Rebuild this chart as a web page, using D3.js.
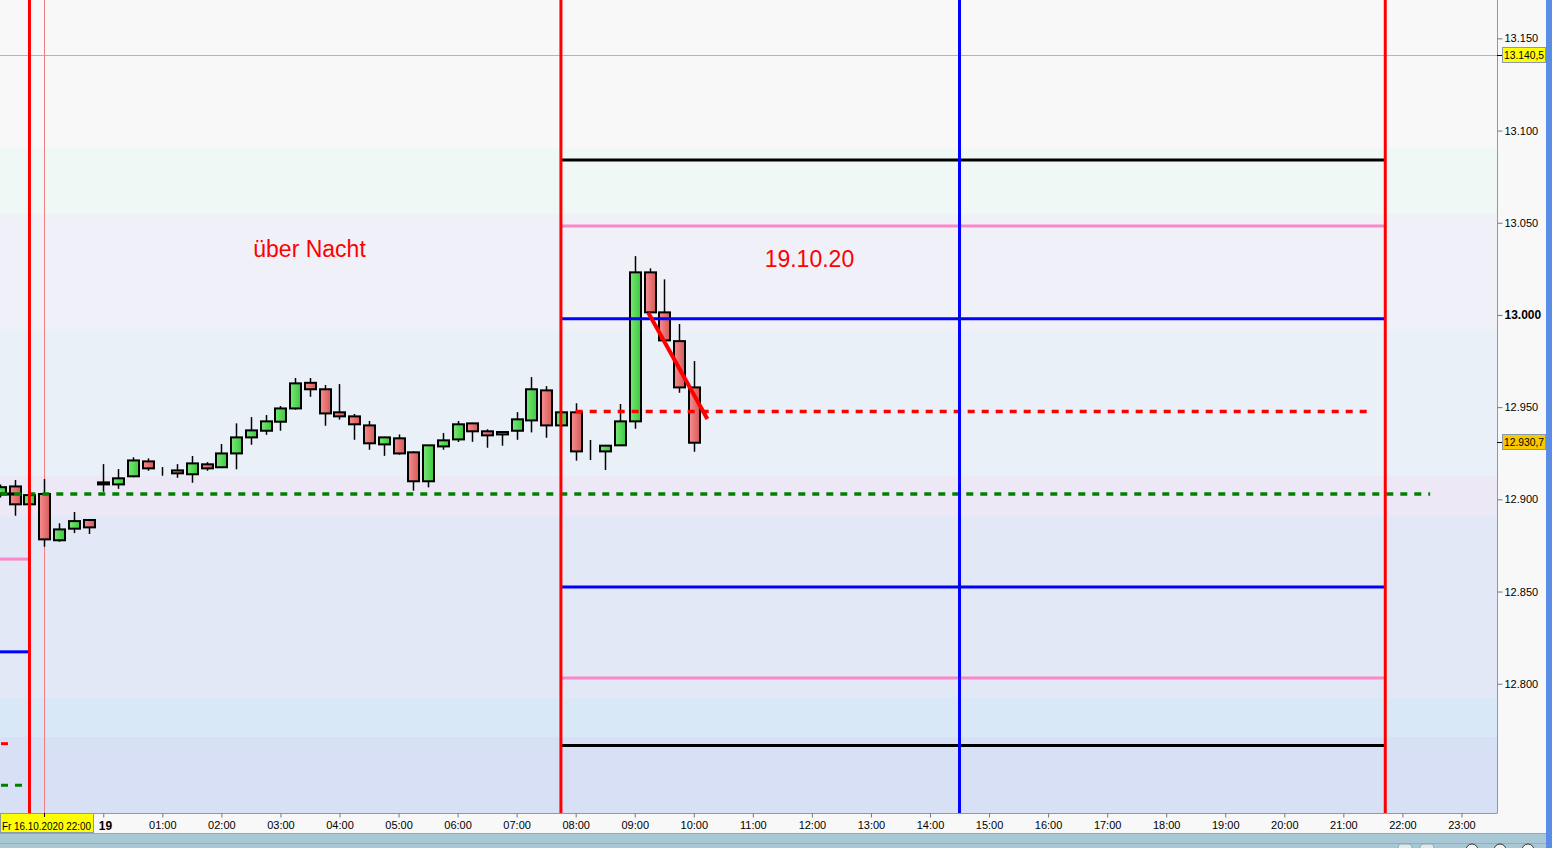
<!DOCTYPE html>
<html><head><meta charset="utf-8">
<script src="https://cdn.jsdelivr.net/npm/d3@7"></script>
<style>html,body{margin:0;padding:0;background:#f8f8f8;overflow:hidden}svg{display:block;font-family:"Liberation Sans",Arial,sans-serif}</style>
</head><body><svg id="c" width="1552" height="848"></svg>
<script>
// ---- data (15-minute candles, hours relative to Mon 19.10.2020 00:00) ----
const candleTime=[-1.75,-1.5,-1.25,-1.0,-0.75,-0.5,-0.25,0,0.25,0.5,0.75,1.0,1.25,1.5,1.75,2.0,2.25,2.5,2.75,3.0,3.25,3.5,3.75,4.0,4.25,4.5,4.75,5.0,5.25,5.5,5.75,6.0,6.25,6.5,6.75,7.0,7.25,7.5,7.75,8.0,8.25,8.5,8.75,9.0,9.25,9.5,9.75,10.0];
const candleOpen=[12902.9,12907.0,12897.3,12902.9,12877.8,12884.1,12888.8,12909.2,12908.1,12912.5,12920.6,12915.9,12915.7,12913.6,12919.0,12917.4,12924.9,12933.6,12937.2,12942.1,12949.3,12963.2,12959.7,12947.2,12945.0,12940.1,12929.8,12933.1,12925.5,12909.8,12928.7,12932.5,12941.2,12936.9,12935.2,12937.2,12942.8,12959.1,12940.1,12947.2,12925.8,12926.0,12929.3,12942.3,13023.1,13001.4,12985.8,12960.7];
const candleHigh=[12908.0,12910.5,12903.0,12911.0,12887.0,12893.1,12889.0,12919.1,12916.4,12922.8,12922.2,12917.5,12919.1,12923.5,12920.2,12930.0,12941.2,12944.6,12945.7,12950.6,12965.8,12965.8,12962.0,12962.5,12946.3,12942.5,12934.0,12935.2,12926.0,12929.5,12936.0,12942.5,12941.5,12938.0,12937.0,12947.3,12966.3,12961.4,12948.0,12952.1,12932.2,12929.5,12951.7,13031.9,13025.3,13019.3,12995.1,12975.0];
const candleLow=[12901.0,12891.1,12896.0,12874.3,12877.0,12881.7,12881.2,12904.1,12905.7,12912.0,12915.5,12912.8,12911.7,12909.0,12915.5,12917.0,12916.3,12929.6,12935.0,12937.2,12948.6,12955.6,12939.9,12943.2,12932.3,12926.9,12923.6,12924.2,12904.7,12906.5,12926.9,12931.1,12931.2,12928.0,12929.1,12932.3,12936.3,12933.4,12939.0,12921.0,12921.3,12915.9,12929.0,12938.3,13001.0,12986.0,12957.8,12925.8];
const candleClose=[12906.6,12897.3,12902.3,12878.3,12883.7,12888.2,12884.8,12908.1,12911.4,12921.1,12916.8,12915.9,12914.1,12919.5,12916.8,12924.9,12933.6,12937.4,12942.3,12949.3,12962.9,12959.7,12946.6,12945.0,12940.7,12930.4,12933.6,12924.9,12909.8,12929.3,12932.0,12940.7,12936.9,12934.7,12936.5,12943.4,12959.7,12940.1,12947.2,12926.0,12925.8,12929.1,12942.3,13023.1,13001.4,12986.2,12960.7,12930.7];

// day levels (between session lines)
const dayLevelValues=[13084.0,13048.2,12997.9,12852.4,12803.1,12766.5];
const dayLevelKinds=["outer","mid","inner","inner","mid","outer"];
const dayStart=7.75, dayEnd=21.71;
// previous-day level stubs
const prevLevelValues=[12902.9,12867.6,12817.3];
const prevLevelKinds=["outer","mid","inner"];
const prevLevelEnds=[-1.5,-1.25,-1.25];
const prevDotValues=[12767.5,12745.0];
const prevDotKinds=["red","green"];
const prevDotEnds=[-1.614,-1.376];
// dotted reference lines
const dotValues=[12902.9,12947.7];
const dotKinds=["green","red"];
const dotStarts=[-1.744,8.0];
const dotEnds=[22.47,21.4];
// trend segment
const trendTimes=[9.23,10.23];
const trendPrices=[13001.2,12943.6];
// vertical session markers
const sessionRedTimes=[-1.25,7.75,21.71];
const sessionBlueTimes=[14.5];
const crossTime=-1.0;
const crossPrice=13140.5;
const lastPrice=12930.7;
// background zones
const zoneEdges=[13170.8,13090.5,13054.7,12991.8,12912.6,12890.9,12792.2,12771.1,12729.9];
const zoneColors=["#f8f8f8","#f0f8f6","#f0f0f8","#eaf0f8","#ece8f6","#e2e8f6","#d8e8f6","#d8e0f6"];
// axes
const yTickValues=[12800,12850,12900,12950,13000,13050,13100,13150];
const yTickLabels=["12.800","12.850","12.900","12.950","13.000","13.050","13.100","13.150"];
const xTickHours=[0,1,2,3,4,5,6,7,8,9,10,11,12,13,14,15,16,17,18,19,20,21,22,23];
const xTickLabels=["19","01:00","02:00","03:00","04:00","05:00","06:00","07:00","08:00","09:00","10:00","11:00","12:00","13:00","14:00","15:00","16:00","17:00","18:00","19:00","20:00","21:00","22:00","23:00"];
const crossTimeLabel="Fr 16.10.2020 22:00";
const crossPriceLabel="13.140,5";
const lastPriceLabel="12.930,7";
const annotTexts=["über Nacht","19.10.20"];
const annotTimes=[2.54,11.2];
const annotPrices=[13031.4,13026.0];

// ---- drawing ----
const svg=d3.select("#c");
const PR=1497, PB=813;
const x=d3.scaleLinear().domain([-1.749,23.602]).range([0,PR]);
const y=d3.scaleLinear().domain([12729.9,13170.8]).range([PB,0]);
const levelColor={outer:"#000000",mid:"#f888c8",inner:"#0000ff"};
const dotColor={red:"#ff0000",green:"#008000"};

const defs=svg.append("defs");
defs.append("clipPath").attr("id","clip").append("rect").attr("x",0).attr("y",0).attr("width",PR).attr("height",PB);
function grad(id,c1,c2){const g=defs.append("linearGradient").attr("id",id).attr("x1","0").attr("x2","1").attr("y1","0").attr("y2","0");
 g.append("stop").attr("offset","0").attr("stop-color",c1);g.append("stop").attr("offset","1").attr("stop-color",c2);}
grad("gUp","#7ae87a","#3cc83c");
grad("gDn","#f49090","#d85858");

svg.append("rect").attr("width",1552).attr("height",848).attr("fill","#f8f8f8");
const plot=svg.append("g").attr("clip-path","url(#clip)");

// zones
plot.selectAll("rect.zone").data(zoneColors).enter().append("rect").attr("class","zone")
 .attr("x",0).attr("width",PR)
 .attr("y",(d,i)=>y(zoneEdges[i])).attr("height",(d,i)=>y(zoneEdges[i+1])-y(zoneEdges[i]))
 .attr("fill",d=>d);

// crosshair lines (under candles)
plot.append("line").attr("x1",0).attr("x2",PR).attr("y1",Math.round(y(crossPrice))-0.5).attr("y2",Math.round(y(crossPrice))-0.5)
 .attr("stroke","#dca4a4").attr("stroke-width",1);
plot.append("line").attr("x1",Math.round(x(crossTime))+0.5).attr("x2",Math.round(x(crossTime))+0.5).attr("y1",0).attr("y2",PB)
 .attr("stroke","#f08080").attr("stroke-width",1);

// candles
const idx=d3.range(candleTime.length);
const cw=11;
const cg=plot.append("g");
cg.selectAll("line.wick").data(idx).enter().append("line")
 .attr("x1",i=>Math.round(x(candleTime[i]))+0.5).attr("x2",i=>Math.round(x(candleTime[i]))+0.5)
 .attr("y1",i=>y(candleHigh[i])).attr("y2",i=>y(candleLow[i]))
 .attr("stroke","#000").attr("stroke-width",1.5);
cg.selectAll("rect.body").data(idx).enter().append("rect")
 .attr("x",i=>Math.round(x(candleTime[i]))+0.5-cw/2)
 .attr("width",cw)
 .attr("y",i=>y(Math.max(candleOpen[i],candleClose[i])))
 .attr("height",i=>Math.abs(y(candleOpen[i])-y(candleClose[i])))
 .attr("fill",i=>candleClose[i]>=candleOpen[i]?"url(#gUp)":"url(#gDn)")
 .attr("stroke","#000").attr("stroke-width",2);

// day levels
plot.selectAll("line.lvl").data(dayLevelValues).enter().append("line")
 .attr("x1",x(dayStart)).attr("x2",x(dayEnd)).attr("y1",d=>y(d)).attr("y2",d=>y(d))
 .attr("stroke",(d,i)=>levelColor[dayLevelKinds[i]]).attr("stroke-width",3);
// prev levels
plot.selectAll("line.plvl").data(prevLevelValues).enter().append("line")
 .attr("x1",0).attr("x2",(d,i)=>x(prevLevelEnds[i])).attr("y1",d=>y(d)).attr("y2",d=>y(d))
 .attr("stroke",(d,i)=>levelColor[prevLevelKinds[i]]).attr("stroke-width",3);
plot.selectAll("line.pdot").data(prevDotValues).enter().append("line")
 .attr("x1",1).attr("x2",(d,i)=>x(prevDotEnds[i])).attr("y1",d=>y(d)).attr("y2",d=>y(d))
 .attr("stroke",(d,i)=>dotColor[prevDotKinds[i]]).attr("stroke-width",3).attr("stroke-dasharray","7,7");
// dotted lines
plot.selectAll("line.dot").data(dotValues).enter().append("line")
 .attr("x1",(d,i)=>x(dotStarts[i])).attr("x2",(d,i)=>x(dotEnds[i])).attr("y1",d=>y(d)).attr("y2",d=>y(d))
 .attr("stroke",(d,i)=>dotColor[dotKinds[i]]).attr("stroke-width",3.5).attr("stroke-dasharray","7,7");
// trend
plot.append("line").attr("x1",x(trendTimes[0])).attr("y1",y(trendPrices[0])).attr("x2",x(trendTimes[1])).attr("y2",y(trendPrices[1]))
 .attr("stroke","#ff0000").attr("stroke-width",4);
// session verticals
plot.selectAll("line.vr").data(sessionRedTimes).enter().append("line")
 .attr("x1",d=>x(d)).attr("x2",d=>x(d)).attr("y1",0).attr("y2",PB).attr("stroke","#ff0000").attr("stroke-width",3);
plot.selectAll("line.vb").data(sessionBlueTimes).enter().append("line")
 .attr("x1",d=>x(d)).attr("x2",d=>x(d)).attr("y1",0).attr("y2",PB).attr("stroke","#0000ff").attr("stroke-width",3);
// annotations
plot.selectAll("text.ann").data(annotTexts).enter().append("text")
 .attr("x",(d,i)=>x(annotTimes[i])).attr("y",(d,i)=>y(annotPrices[i]))
 .attr("fill","#ff0000").attr("font-size",23).text(d=>d);

// axes frame
svg.append("line").attr("x1",PR+0.5).attr("x2",PR+0.5).attr("y1",0).attr("y2",PB).attr("stroke","#8a9aa8");
svg.append("line").attr("x1",0).attr("x2",PR+0.5).attr("y1",PB+0.5).attr("y2",PB+0.5).attr("stroke","#8a9aa8");

// y axis
const ya=svg.append("g").attr("transform",`translate(${PR+0.5},0)`)
 .call(d3.axisRight(y).tickValues(yTickValues).tickFormat((d,i)=>yTickLabels[i]).tickSize(5).tickPadding(2));
ya.select(".domain").remove();
ya.selectAll("line").attr("stroke","#6a7a88");
ya.selectAll("text").attr("font-family","Liberation Sans, Arial").attr("fill","#000")
 .attr("font-weight",d=>d===13000?"bold":"normal").attr("font-size",d=>d===13000?12:11);

// x axis
const xa=svg.append("g").attr("transform",`translate(0,${PB+0.5})`)
 .call(d3.axisBottom(x).tickValues(xTickHours).tickFormat((d,i)=>xTickLabels[i]).tickSize(4).tickPadding(4));
xa.select(".domain").remove();
xa.selectAll("line").attr("stroke","#6a7a88");
xa.selectAll("text").attr("font-family","Liberation Sans, Arial").attr("fill","#000")
 .attr("font-weight",d=>d===0?"bold":"normal").attr("font-size",d=>d===0?12:11)
 .attr("text-anchor",d=>d===0?"start":"middle").attr("dx",d=>d===0?-5:0);

// crosshair time label
const ctx=x(crossTime);
svg.append("rect").attr("x",0.5).attr("y",PB+0.5).attr("width",93).attr("height",19).attr("fill","#ffff00").attr("stroke","#8a9aa8");
svg.append("line").attr("x1",Math.round(ctx)+0.5).attr("x2",Math.round(ctx)+0.5).attr("y1",PB).attr("y2",PB+4).attr("stroke","#000");
svg.append("text").attr("x",2).attr("y",830).attr("font-size",11).attr("textLength",89).attr("lengthAdjust","spacingAndGlyphs")
 .attr("fill","#000").text(crossTimeLabel);

// price labels
function priceLabel(v,txt,fill){
 const yy=Math.round(y(v));
 svg.append("line").attr("x1",PR).attr("x2",PR+5).attr("y1",yy-0.5).attr("y2",yy-0.5).attr("stroke","#000");
 svg.append("rect").attr("x",PR+5.5).attr("y",yy-8.5).attr("width",43).attr("height",15).attr("fill",fill).attr("stroke","#8a9aa8");
 svg.append("text").attr("x",PR+7).attr("y",yy+3).attr("font-size",11).attr("textLength",40).attr("lengthAdjust","spacingAndGlyphs")
  .attr("fill","#000").text(txt);
}
priceLabel(crossPrice,crossPriceLabel,"#ffff00");
priceLabel(lastPrice,lastPriceLabel,"#f8c800");

// bottom bar & right stripe
svg.append("rect").attr("x",0).attr("y",833).attr("width",1552).attr("height",15).attr("fill","#a9c8d6");
svg.append("line").attr("x1",0).attr("x2",1552).attr("y1",833.5).attr("y2",833.5).attr("stroke","#90aabb");
svg.append("line").attr("x1",0).attr("x2",1552).attr("y1",843.5).attr("y2",843.5).attr("stroke","#8eb0c0");
svg.append("rect").attr("x",1546).attr("y",0).attr("width",6).attr("height",848).attr("fill","#5b8ce6");
// small toolbar buttons
[1398,1420].forEach(bx=>svg.append("rect").attr("x",bx).attr("y",844).attr("width",14).attr("height",8).attr("rx",3).attr("fill","#dfe8ee").attr("stroke","#8aa"));
[1472,1500,1528].forEach(bx=>svg.append("circle").attr("cx",bx).attr("cy",850).attr("r",6).attr("fill","#f4f4f4").attr("stroke","#333"));
</script></body></html>
